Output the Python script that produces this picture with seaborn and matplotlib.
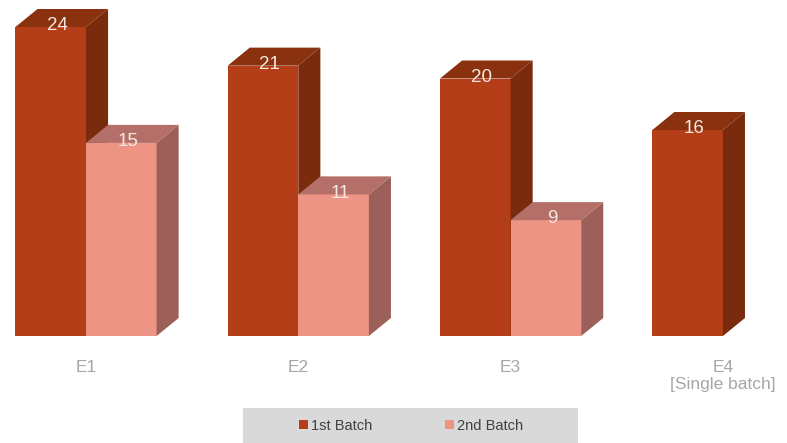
import matplotlib
matplotlib.use("Agg")
import matplotlib.pyplot as plt
from matplotlib.patches import Polygon, Rectangle
import seaborn as sns
import pandas as pd

# Data
categories = ["E1", "E2", "E3", "E4"]
tick_labels = ["E1", "E2", "E3", "E4\n[Single batch]"]
batches = ["1st Batch", "2nd Batch"]
first_batch = [24, 21, 20, 16]
second_batch = [15, 11, 9]

rows = [(c, "1st Batch", v) for c, v in zip(categories, first_batch)]
rows += [(c, "2nd Batch", v) for c, v in zip(categories, second_batch)]
df = pd.DataFrame(rows, columns=["experiment", "batch", "count"])

# Face colours: front, side, top
front = {"1st Batch": "#b43e17", "2nd Batch": "#ee9484"}
side = {"1st Batch": "#7a2a0d", "2nd Batch": "#9c5f59"}
top = {"1st Batch": "#8a3110", "2nd Batch": "#b36f68"}

sns.set_theme(style="white")
plt.rcParams["font.family"] = ["Liberation Sans", "DejaVu Sans"]

fig = plt.figure(figsize=(7.87, 4.43), dpi=100)
ax = fig.add_axes([0, 0, 1, 1])

sns.barplot(data=df, x="experiment", y="count", hue="batch",
            order=categories, hue_order=batches, palette=front,
            width=0.665, saturation=1, linewidth=0, legend=False, ax=ax)

ax.set_xlim(-0.405, 3.302)
ax.set_ylim(-8.31, 26.1)
ax.axis("off")

# depth of the extruded boxes, in data units
dx, dy = 0.104, 1.40

for cont, b in zip(ax.containers, batches):
    z = 2 + batches.index(b)
    for patch in cont.patches:
        h = patch.get_height()
        if not h or h != h:
            continue
        x0 = patch.get_x()
        x1 = x0 + patch.get_width()
        patch.set_zorder(z)
        ax.add_patch(Polygon([(x1, 0), (x1 + dx, dy), (x1 + dx, h + dy), (x1, h)],
                             closed=True, facecolor=side[b], edgecolor="none", zorder=z))
        ax.add_patch(Polygon([(x0, h), (x0 + dx, h + dy), (x1 + dx, h + dy), (x1, h)],
                             closed=True, facecolor=top[b], edgecolor="none", zorder=z))
        ax.text((x0 + x1) / 2 + 0.03, h + 0.1, f"{h:g}", ha="center", va="center",
                fontsize=13.5, color="#f6e7e2", zorder=10)

# category labels below the boxes
for i, lab in enumerate(tick_labels):
    ax.text(i, -1.85, lab, ha="center", va="top", fontsize=12.5,
            color="#a6a6a6", linespacing=1.15)

# legend box at the bottom
fig.patches.append(Rectangle((243 / 787, 0), 335 / 787, 35 / 443,
                             transform=fig.transFigure, facecolor="#d9d9d9",
                             edgecolor="none", zorder=0))
handles = [Rectangle((0, 0), 1, 1, facecolor=front[b], edgecolor="none") for b in batches]
fig.legend(handles, batches, loc="center", bbox_to_anchor=(411 / 787, 17 / 443),
           ncol=2, frameon=False, fontsize=10.5, handlelength=0.6, handleheight=0.6,
           handletextpad=0.2, columnspacing=5.0, labelcolor="#404040")

fig.savefig("out.png", dpi=100)
